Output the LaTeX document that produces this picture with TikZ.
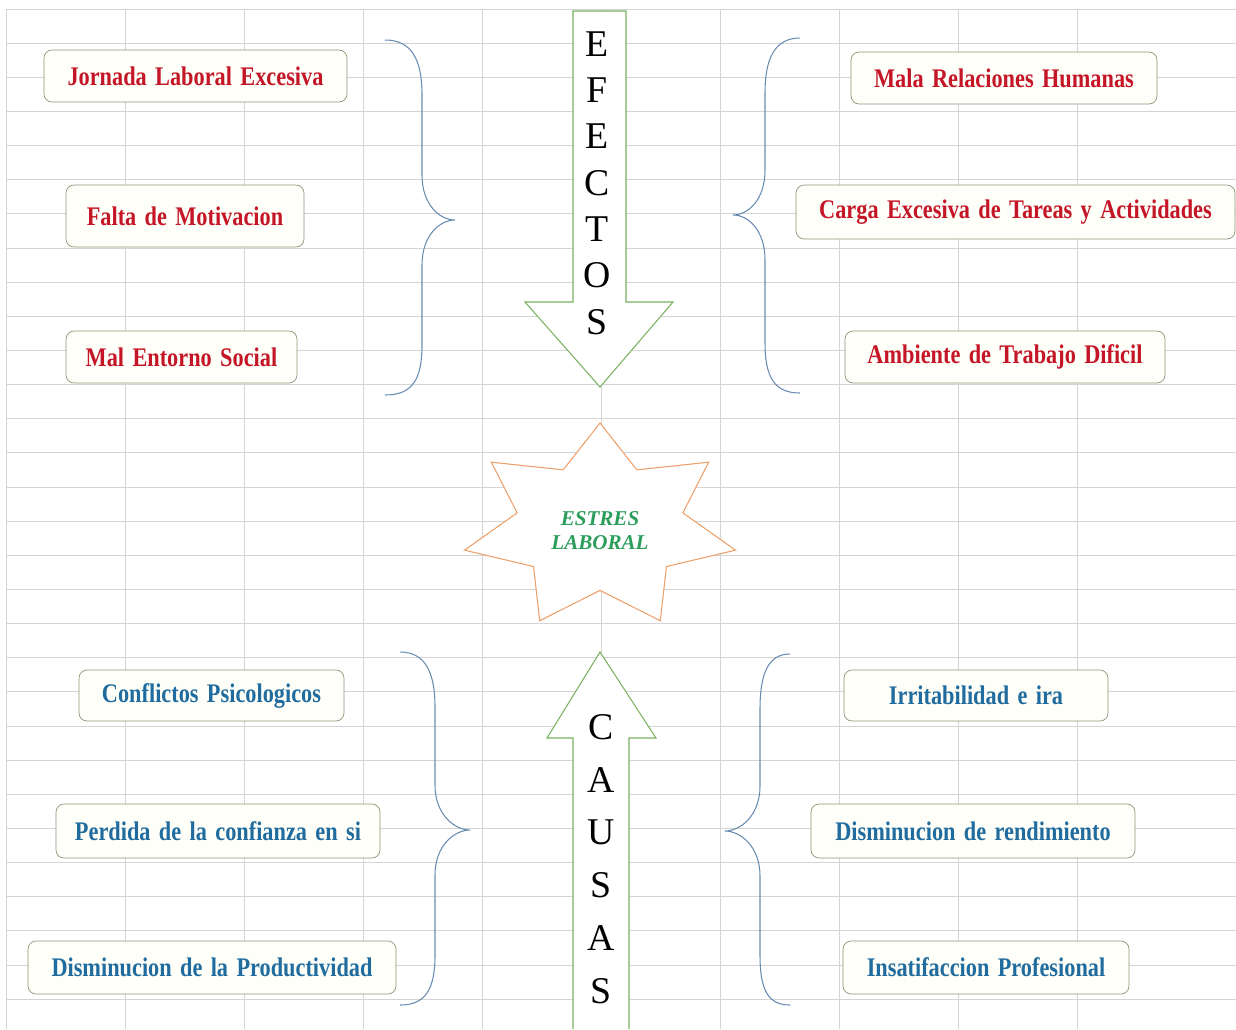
\documentclass[tikz,border=0pt]{standalone}
\usepackage{fontspec}
\setmainfont{Liberation Serif}
\newfontfamily\cajafont[FakeStretch=0.83, WordSpace=1.5]{Liberation Serif}
\definecolor{rojo}{RGB}{196,22,38}
\definecolor{azul}{RGB}{32,108,158}
\definecolor{verde}{RGB}{44,158,92}
\definecolor{borde}{RGB}{138,152,118}
\definecolor{fondo}{RGB}{255,255,250}
\definecolor{rejilla}{RGB}{212,212,212}
\definecolor{llave}{RGB}{104,140,178}
\definecolor{flecha}{RGB}{122,178,96}
\definecolor{estrella}{RGB}{238,160,108}
\begin{document}
\begin{tikzpicture}[x=0.02cm, y=-0.02cm,
	efecto/.style={rectangle, draw=borde, fill=fondo, rounded corners=0.16cm, minimum height=1.04cm, inner sep=0pt, font=\cajafont\bfseries\fontsize{15.3}{18}\selectfont, text=rojo},
	causa/.style={efecto, text=azul},
	letra/.style={font=\fontsize{21.5}{24}\selectfont, inner sep=0pt},
	llave style/.style={draw=llave, line width=0.6pt},
	flecha style/.style={draw=flecha, fill=white, line width=0.6pt}]
	\useasboundingbox[fill=white] (0,0) rectangle (1236,1029);
	% rejilla de la hoja
	\foreach \x in {6,125,...,1195}
		\draw[rejilla, line width=0.5pt] (\x,9) -- (\x,1029);
	\foreach \i in {0,...,29}
		\draw[rejilla, line width=0.5pt] (6,9+34.14*\i) -- (1236,9+34.14*\i);
	% efectos
	\node[efecto, minimum width=6.06cm] (ef1) at (195.5,76) {Jornada Laboral Excesiva};
	\node[efecto, minimum width=4.76cm, minimum height=1.24cm] (ef2) at (185,216) {Falta de Motivacion};
	\node[efecto, minimum width=4.62cm] (ef3) at (181.5,357) {Mal Entorno Social};
	\node[efecto, minimum width=6.12cm] (ef4) at (1004,78) {Mala Relaciones Humanas};
	\node[efecto, minimum width=8.78cm, minimum height=1.08cm] (ef5) at (1015.5,212) {Carga Excesiva de Tareas y Actividades};
	\node[efecto, minimum width=6.4cm] (ef6) at (1005,357) {Ambiente de Trabajo Dificil};
	% causas
	\node[causa, minimum width=5.3cm, minimum height=1.02cm] (ca1) at (211.5,695.5) {Conflictos Psicologicos};
	\node[causa, minimum width=6.48cm, minimum height=1.08cm] (ca2) at (218,831) {Perdida de la confianza en si};
	\node[causa, minimum width=7.36cm, minimum height=1.06cm] (ca3) at (212,967.5) {Disminucion de la Productividad};
	\node[causa, minimum width=5.28cm, minimum height=1.02cm] (ca4) at (976,695.5) {Irritabilidad e ira};
	\node[causa, minimum width=6.48cm, minimum height=1.08cm] (ca5) at (973,831) {Disminucion de rendimiento};
	\node[causa, minimum width=5.72cm, minimum height=1.06cm] (ca6) at (986,967.5) {Insatifaccion Profesional};
	% llaves
	\draw[llave style] (385,40) .. controls (412,40) and (422,60) .. (422,95) -- (422,175) .. controls (422,205) and (440,220) .. (455,220) .. controls (440,220) and (422,235) .. (422,265) -- (422,345) .. controls (422,380) and (412,395) .. (385,395);
	\draw[llave style] (800,38) .. controls (775,38) and (765,58) .. (765,93) -- (765,170) .. controls (765,200) and (748,215) .. (733,215) .. controls (748,215) and (765,230) .. (765,260) -- (765,343) .. controls (765,378) and (775,393) .. (800,393);
	\draw[llave style] (400,652) .. controls (425,652) and (435,672) .. (435,707) -- (435,785) .. controls (435,815) and (455,830) .. (470,830) .. controls (455,830) and (435,845) .. (435,875) -- (435,955) .. controls (435,990) and (425,1005) .. (400,1005);
	\draw[llave style] (790,654) .. controls (768,654) and (760,674) .. (760,709) -- (760,786) .. controls (760,816) and (740,831) .. (725,831) .. controls (740,831) and (760,846) .. (760,876) -- (760,955) .. controls (760,990) and (768,1005) .. (790,1005);
	% flechas
	\filldraw[flecha style] (573,11) -- (626,11) -- (626,302) -- (673,302) -- (600,387) -- (525,302) -- (573,302) -- cycle;
	\filldraw[flecha style] (573,1029) -- (573,738) -- (547,738) -- (600,652) -- (656,738) -- (629,738) -- (629,1029);
	\foreach \l [count=\i from 0] in {E,F,E,C,T,O,S}
		\node[letra] (efe\i) at (597,44+46.3*\i) {\l};
	\foreach \l [count=\i from 0] in {C,A,U,S,A,S}
		\node[letra] (cau\i) at (601,727+52.8*\i) {\l};
	% estrella
	\filldraw[draw=estrella, fill=white, line width=0.6pt, shift={(600,527)}] (270:139 and 104)
		\foreach \k in {0,...,6} { -- ({270+\k*360/7+180/7}:85 and 63.4) -- ({270+(\k+1)*360/7}:139 and 104) } -- cycle;
	\node[align=center, text=verde, font=\bfseries\itshape\fontsize{12}{13.7}\selectfont] (estres) at (600,531) {ESTRES\\LABORAL};
\end{tikzpicture}
\end{document}
